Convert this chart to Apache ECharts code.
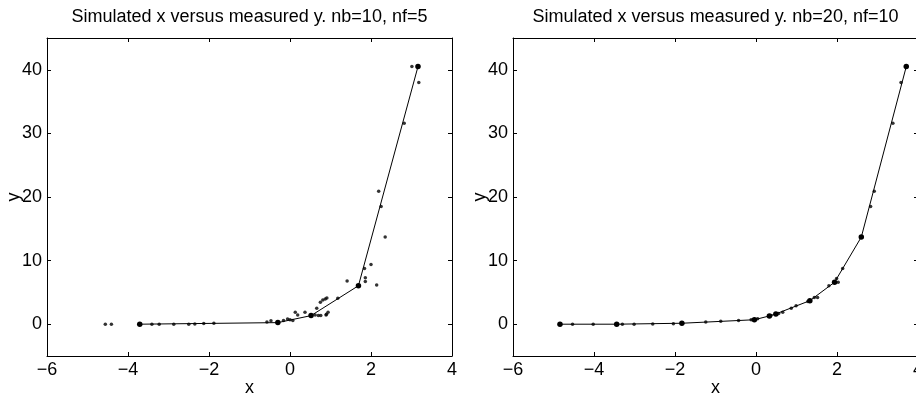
<!DOCTYPE html>
<html>
<head>
<meta charset="utf-8">
<script src="https://cdn.jsdelivr.net/npm/echarts@6/dist/echarts.min.js"></script>
<style>html,body{margin:0;padding:0;background:#fff}#c{width:916px;height:394px}</style>
</head>
<body>
<div id="c"></div>
<script>
// Titles
const titles = ["Simulated x versus measured y. nb=10, nf=5", "Simulated x versus measured y. nb=20, nf=10"];
// Tick values
const xTicks = [-6, -4, -2, 0, 2, 4];
const yTicks = [0, 10, 20, 30, 40];

// Left panel: fitted model (polyline vertices)
const leftLineX = [-3.71, -0.30, 0.52, 1.69, 3.16];
const leftLineY = [0.0, 0.25, 1.35, 6.05, 40.5];
// Left panel: measured points
const leftDotsX = [-4.56, -4.41, -3.71, -3.41, -3.23, -2.87, -2.50, -2.35, -2.13, -1.88, -0.57, -0.47, -0.30, -0.16, -0.06, 0.00, 0.07, 0.13, 0.19, 0.37, 0.52, 0.62, 0.66, 0.70, 0.76, 0.75, 0.81, 0.87, 0.89, 0.91, 0.90, 0.94, 1.18, 1.41, 1.69, 1.84, 1.86, 1.86, 2.00, 2.14, 2.19, 2.25, 2.35, 2.82, 3.01, 3.16, 3.18];
const leftDotsY = [0.0, 0.0, 0.0, 0.0, 0.0, 0.0, 0.0, 0.05, 0.1, 0.15, 0.36, 0.55, 0.25, 0.57, 0.83, 0.70, 0.57, 1.88, 1.46, 1.88, 1.35, 1.46, 2.50, 1.35, 1.35, 3.44, 3.80, 3.96, 1.46, 4.10, 1.57, 1.88, 4.07, 6.78, 6.05, 8.77, 7.30, 6.70, 9.40, 6.16, 20.9, 18.5, 13.7, 31.6, 40.5, 40.5, 38.0];

// Right panel: fitted model (polyline vertices)
const rightLineX = [-4.84, -3.44, -1.83, -0.04, 0.33, 0.49, 1.33, 1.94, 2.60, 3.71];
const rightLineY = [0.0, 0.0, 0.15, 0.70, 1.30, 1.62, 3.70, 6.60, 13.7, 40.5];
// Right panel: measured points
const rightDotsX = [-4.53, -4.02, -3.30, -3.01, -2.55, -2.04, -1.24, -0.87, -0.43, -0.12, 0.04, 0.37, 0.56, 0.66, 0.87, 0.99, 1.28, 1.44, 1.52, 1.80, 1.99, 2.03, 2.14, 2.83, 2.92, 3.38, 3.58];
const rightDotsY = [0.0, 0.0, 0.0, 0.0, 0.02, 0.08, 0.35, 0.45, 0.60, 0.70, 0.85, 1.35, 1.70, 1.88, 2.50, 2.90, 3.55, 4.20, 4.20, 6.05, 7.20, 6.60, 8.77, 18.5, 20.9, 31.6, 38.0];

const zip = (a, b) => a.map((v, i) => [v, b[i]]);
const fmt = v => String(v).replace('-', '\u2212');
const FONT = 'Liberation Sans, Arial, Helvetica, sans-serif';
const FS = 18;
const TFS = 18;

const grids = [
  { left: 47, top: 38, width: 405, height: 318, containLabel: false, outerBoundsMode: 'none' },
  { left: 513, top: 38, width: 405, height: 318, containLabel: false, outerBoundsMode: 'none' }
];

function xAxes(gi) {
  return [
    { type: 'value', gridIndex: gi, position: 'bottom', min: -6, max: 4, interval: 2,
      name: 'x', nameLocation: 'middle', nameGap: 23, nameMoveOverlap: false,
      nameTextStyle: { color: '#000', fontSize: FS, fontFamily: FONT },
      axisLine: { show: true, onZero: false, lineStyle: { color: '#000', width: 1 } },
      axisTick: { show: true, inside: true, length: 4, lineStyle: { color: '#000' } },
      axisLabel: { show: true, color: '#000', fontSize: FS, fontFamily: FONT, margin: 5, formatter: fmt },
      splitLine: { show: false } },
    { type: 'value', gridIndex: gi, position: 'top', min: -6, max: 4, interval: 2,
      axisLine: { show: true, onZero: false, lineStyle: { color: '#000', width: 1 } },
      axisTick: { show: true, inside: true, length: 4, lineStyle: { color: '#000' } },
      axisLabel: { show: false }, splitLine: { show: false } }
  ];
}
function yAxes(gi) {
  return [
    { type: 'value', gridIndex: gi, position: 'left', min: -5, max: 45,
      name: 'y', nameLocation: 'middle', nameGap: 24, nameMoveOverlap: false,
      nameTextStyle: { color: '#000', fontSize: FS, fontFamily: FONT },
      axisLine: { show: true, onZero: false, lineStyle: { color: '#000', width: 1 } },
      axisTick: { show: true, inside: true, length: 4, customValues: yTicks, lineStyle: { color: '#000' } },
      axisLabel: { show: true, color: '#000', fontSize: FS, fontFamily: FONT, margin: 5, customValues: yTicks, formatter: fmt },
      splitLine: { show: false } },
    { type: 'value', gridIndex: gi, position: 'right', min: -5, max: 45,
      axisLine: { show: true, onZero: false, lineStyle: { color: '#000', width: 1 } },
      axisTick: { show: true, inside: true, length: 4, customValues: yTicks, lineStyle: { color: '#000' } },
      axisLabel: { show: false, customValues: yTicks }, splitLine: { show: false } }
  ];
}

function panelSeries(xi, yi, lx, ly, dx, dy) {
  return [
    { type: 'scatter', xAxisIndex: xi, yAxisIndex: yi, data: zip(dx, dy),
      symbol: 'circle', symbolSize: 3.5, itemStyle: { color: '#000' }, silent: true, z: 3 },
    { type: 'line', xAxisIndex: xi, yAxisIndex: yi, data: zip(lx, ly),
      symbol: 'circle', symbolSize: 5.5, showSymbol: true,
      lineStyle: { color: '#000', width: 1 }, itemStyle: { color: '#000' }, silent: true, z: 4 }
  ];
}

const chart = echarts.init(document.getElementById('c'), null, { renderer: 'canvas' });
chart.setOption({
  animation: false,
  backgroundColor: '#fff',
  grid: grids,
  xAxis: [...xAxes(0), ...xAxes(1)],
  yAxis: [...yAxes(0), ...yAxes(1)],
  graphic: [
    { type: 'text', x: 249.5, y: 17, style: { text: titles[0], fill: '#000', font: TFS + 'px ' + FONT, align: 'center', verticalAlign: 'middle' } },
    { type: 'text', x: 715.5, y: 17, style: { text: titles[1], fill: '#000', font: TFS + 'px ' + FONT, align: 'center', verticalAlign: 'middle' } }
  ],
  series: [
    ...panelSeries(0, 0, leftLineX, leftLineY, leftDotsX, leftDotsY),
    ...panelSeries(2, 2, rightLineX, rightLineY, rightDotsX, rightDotsY)
  ]
});
</script>
</body>
</html>
